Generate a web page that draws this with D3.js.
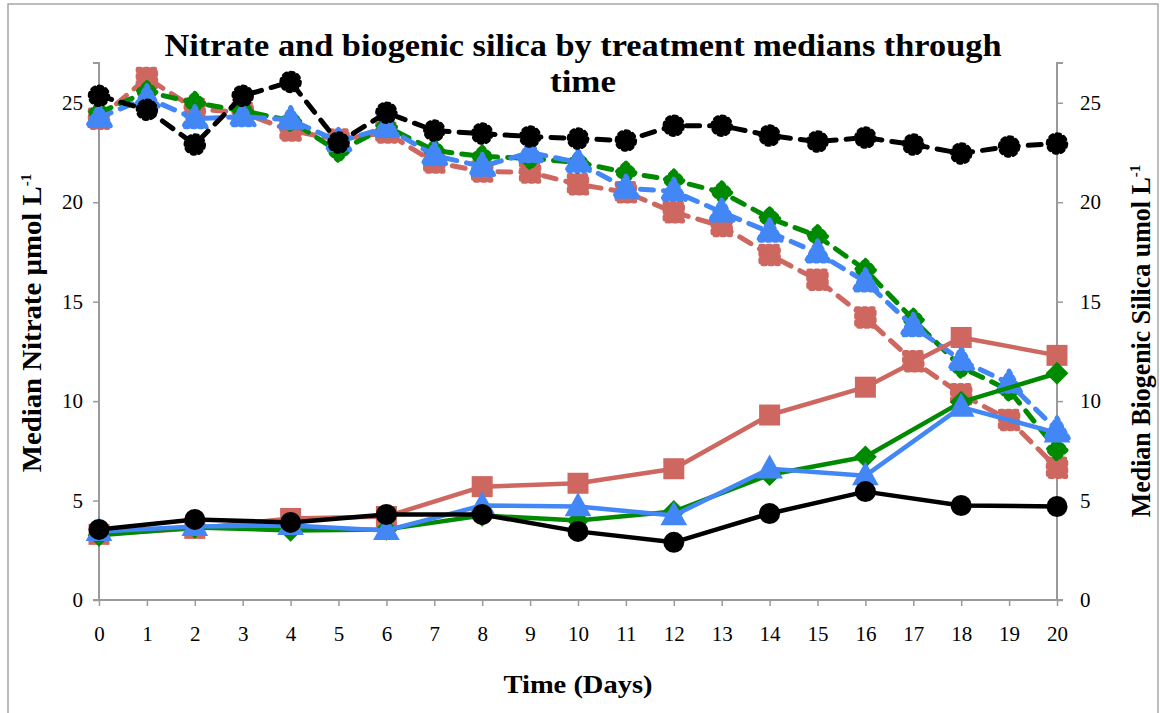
<!DOCTYPE html>
<html>
<head>
<meta charset="utf-8">
<script src="https://cdn.jsdelivr.net/npm/d3@7"></script>
<style>
  html, body { margin: 0; padding: 0; background: #fff; }
  svg { display: block; }
</style>
</head>
<body>
<svg id="chart" width="1160" height="713"></svg>
<script>
// ---- Data ----
const nitrateDays = [0,1,2,3,4,5,6,7,8,9,10,11,12,13,14,15,16,17,18,19,20];
const silicaDays  = [0,2,4,6,8,10,12,14,16,18,20];

// Nitrate medians (dashed, left axis)
const nitrateRed   = [24.2,26.25,24.7,24.5,23.6,23.15,23.5,22.0,21.55,21.5,20.9,20.5,19.5,18.8,17.35,16.1,14.2,12.0,10.35,9.05,6.65];
const nitrateGreen = [24.5,25.55,25.0,24.6,24.1,22.55,23.8,22.6,22.3,22.2,22.0,21.5,21.1,20.5,19.2,18.3,16.6,14.1,11.7,10.55,7.55];
const nitrateBlue  = [24.25,25.25,24.2,24.3,24.15,23.05,23.75,22.35,21.8,22.5,22.0,20.7,20.55,19.5,18.5,17.45,16.0,13.75,12.05,10.9,8.55];
const nitrateBlack = [25.35,24.65,22.9,25.35,26.05,23.0,24.5,23.6,23.45,23.3,23.2,23.1,23.85,23.85,23.35,23.05,23.25,22.9,22.45,22.8,22.95];

// Biogenic silica medians (solid, right axis)
const silicaRed   = [3.3,3.6,4.1,4.2,5.7,5.87,6.6,9.3,10.7,13.2,12.3];
const silicaGreen = [3.25,3.65,3.5,3.55,4.25,4.0,4.45,6.3,7.2,9.95,11.4];
const silicaBlue  = [3.45,3.7,3.75,3.5,4.75,4.7,4.25,6.6,6.25,9.7,8.4];
const silicaBlack = [3.55,4.05,3.9,4.3,4.3,3.45,2.9,4.35,5.45,4.75,4.7];

const yTicks = [0,5,10,15,20,25];
const xTickLabels = ["0","1","2","3","4","5","6","7","8","9","10","11","12","13","14","15","16","17","18","19","20"];

const titleLines = ["Nitrate and biogenic silica by treatment medians through", "time"];
const xTitle = "Time (Days)";
const yTitleLeft = "Median Nitrate µmol L";
const yTitleRight = "Median Biogenic Silica umol L";

const colors = { red: "#CD675F", green: "#008A00", blue: "#4287F5", black: "#000000" };

// ---- Layout ----
const svg = d3.select("#chart");
const plot = { left: 99, right: 1057, top: 63, bottom: 600 };

const x = d3.scaleLinear().domain([0, 20]).range([plot.left, plot.right]);
const yL = d3.scaleLinear().domain([0, 27]).range([plot.bottom, plot.top]);
const yR = d3.scaleLinear().domain([0, 27]).range([plot.bottom, plot.top]);

// Outer frame
svg.append("rect").attr("x", 8).attr("y", 4).attr("width", 1150).attr("height", 712)
  .attr("fill", "#fff").attr("stroke", "#a6a6a6").attr("stroke-width", 1.5);

const axisColor = "#9a9a9a";
const tickFont = "'Liberation Serif', 'DejaVu Serif', serif";

// Left axis
const leftAxis = d3.axisLeft(yL).tickValues(yTicks).tickSize(6).tickPadding(10).tickFormat(d3.format("d"));
const gL = svg.append("g").attr("transform", `translate(${plot.left},0)`).call(leftAxis);
// Right axis
const rightAxis = d3.axisRight(yR).tickValues(yTicks).tickSize(6).tickPadding(17).tickFormat(d3.format("d"));
const gR = svg.append("g").attr("transform", `translate(${plot.right},0)`).call(rightAxis);
// Bottom axis
const bottomAxis = d3.axisBottom(x).tickValues(d3.range(0, 21)).tickSize(6).tickPadding(20)
  .tickFormat((d, i) => xTickLabels[i]);
const gB = svg.append("g").attr("transform", `translate(0,${plot.bottom})`).call(bottomAxis);

[gL, gR, gB].forEach(g => {
  g.select(".domain").attr("stroke", axisColor).attr("stroke-width", 2);
  g.selectAll(".tick line").attr("stroke", axisColor).attr("stroke-width", 1.5);
  g.selectAll(".tick text").attr("fill", "#000").style("font-family", tickFont).style("font-size", "21px");
});
gL.select(".domain").attr("d", `M-6,${yL(27)}H0V${plot.bottom}H-6`);
gR.select(".domain").attr("d", `M6,${yR(27)}H0V${plot.bottom}H6`);
gB.select(".domain").attr("d", `M${plot.left-6},0H${plot.right+6}`);

// ---- Series ----
function markerPath(shape, size) {
  const s = size;
  switch (shape) {
    case "square": return `M${-s/2},${-s/2}H${s/2}V${s/2}H${-s/2}Z`;
    case "diamond": return `M0,${-s*0.6}L${s*0.6},0L0,${s*0.6}L${-s*0.6},0Z`;
    case "triangle": return `M0,${-s*0.62}L${s*0.58},${s*0.42}L${-s*0.58},${s*0.42}Z`;
    default: return d3.symbol().type(d3.symbolCircle).size(Math.PI * (s/2) * (s/2))();
  }
}

function drawSeries(days, values, yScale, color, shape, dashed) {
  const data = days.map((d, i) => ({ d, v: values[i] }));
  const g = svg.append("g");
  const line = d3.line().x(p => x(p.d)).y(p => yScale(p.v));
  g.append("path").datum(data).attr("d", line)
    .attr("fill", "none").attr("stroke", color)
    .attr("stroke-width", dashed ? 5 : 4.5)
    .attr("stroke-linecap", dashed ? "round" : "butt")
    .attr("stroke-linejoin", "round")
    .attr("stroke-dasharray", dashed ? "13,10" : null);
  const size = shape === "circle" ? 21 : (shape === "square" ? 21 : (shape === "triangle" ? 23 : 19));
  g.selectAll("path.m").data(data).enter().append("path").attr("class", "m")
    .attr("transform", p => `translate(${x(p.d)},${yScale(p.v)})`)
    .attr("d", markerPath(shape, dashed ? size - 3 : size))
    .attr("fill", color)
    .attr("stroke", color)
    .attr("stroke-width", dashed ? 4.5 : 0)
    .attr("stroke-linecap", "round")
    .attr("stroke-linejoin", "round")
    .attr("stroke-dasharray", dashed ? "3,4" : null);
}

// Dashed: nitrate
drawSeries(nitrateDays, nitrateRed, yL, colors.red, "square", true);
drawSeries(nitrateDays, nitrateGreen, yL, colors.green, "diamond", true);
drawSeries(nitrateDays, nitrateBlue, yL, colors.blue, "triangle", true);
drawSeries(nitrateDays, nitrateBlack, yL, colors.black, "circle", true);
// Solid: biogenic silica
drawSeries(silicaDays, silicaRed, yR, colors.red, "square", false);
drawSeries(silicaDays, silicaGreen, yR, colors.green, "diamond", false);
drawSeries(silicaDays, silicaBlue, yR, colors.blue, "triangle", false);
drawSeries(silicaDays, silicaBlack, yR, colors.black, "circle", false);

// ---- Titles ----
const serifBold = "'Liberation Serif', 'DejaVu Serif', serif";
svg.append("text").attr("x", 583).attr("y", 56).attr("text-anchor", "middle")
  .style("font-family", serifBold).style("font-weight", "bold").style("font-size", "31px")
  .attr("textLength", 837).attr("lengthAdjust", "spacingAndGlyphs").text(titleLines[0]);
svg.append("text").attr("x", 583).attr("y", 92).attr("text-anchor", "middle")
  .style("font-family", serifBold).style("font-weight", "bold").style("font-size", "31px")
  .attr("textLength", 66).attr("lengthAdjust", "spacingAndGlyphs").text(titleLines[1]);

svg.append("text").attr("x", 578).attr("y", 693).attr("text-anchor", "middle")
  .style("font-family", serifBold).style("font-weight", "bold").style("font-size", "26px")
  .attr("textLength", 149).attr("lengthAdjust", "spacingAndGlyphs").text(xTitle);

function yTitle(cx, cy, main, len) {
  const t = svg.append("text")
    .attr("transform", `translate(${cx},${cy}) rotate(-90)`)
    .attr("text-anchor", "middle")
    .style("font-family", serifBold).style("font-weight", "bold").style("font-size", "28px");
  t.append("tspan").attr("textLength", len).attr("lengthAdjust", "spacingAndGlyphs").text(main);
  t.append("tspan").attr("dy", -10).style("font-size", "15px").text("-1");
}
yTitle(41, 323, yTitleLeft, 286);
yTitle(1150, 341, yTitleRight, 340);
</script>
</body>
</html>
